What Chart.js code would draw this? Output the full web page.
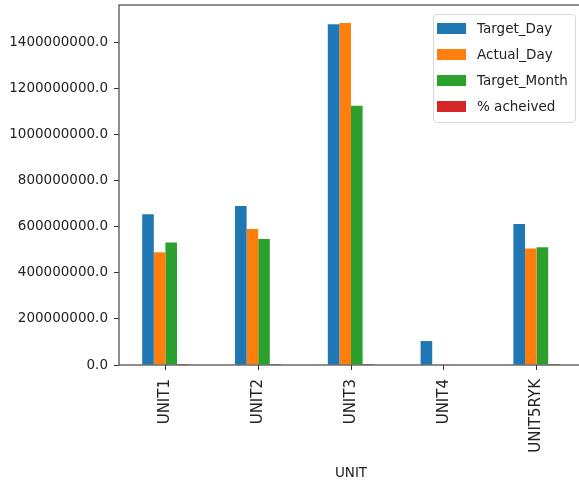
<!DOCTYPE html>
<html>
<head>
<meta charset="utf-8">
<script src="https://cdn.jsdelivr.net/npm/chart.js@4"></script>
<style>
  body { margin: 0; overflow: hidden; background: #fff; }
  #wrap { position: relative; width: 584px; height: 482px; }
  #legend {
    position: absolute; left: 433px; top: 14px; width: 141px; height: 107px;
    border: 1px solid #d9d9d9; border-radius: 4px; background: rgba(255,255,255,0.8);
    font-family: "DejaVu Sans"; font-size: 13.5px; color: #222;
  }
  .item { height: 26px; display: flex; align-items: center; padding-left: 3px; }
  .sw { width: 29px; height: 11px; margin-right: 11px; }
</style>
</head>
<body>
<div id="wrap">
  <canvas id="myChart"></canvas>
  <div id="legend"></div>
</div>
<script>
var units = ["UNIT1", "UNIT2", "UNIT3", "UNIT4", "UNIT5RYK"];
var targetDay = [655000000, 691000000, 1481000000, 104000000, 613000000];
var actualDay = [490000000, 591000000, 1487000000, 0, 506000000];
var targetMonth = [533000000, 548000000, 1127000000, 0, 512000000];
var pctAchieved = [75, 86, 100, 0, 83];
var yTicks = [0, 200000000, 400000000, 600000000, 800000000, 1000000000, 1200000000, 1400000000];
var yMax = 1565000000;

var colors = ["#1f77b4", "#ff7f0e", "#2ca02c", "#d62728"];
var names = ["Target_Day", "Actual_Day", "Target_Month", "% acheived"];
var series = [targetDay, actualDay, targetMonth, pctAchieved];

var mb_datasets = series.map(function (s, i) {
    return { label: names[i], data: s, backgroundColor: colors[i], barPercentage: 1.0, categoryPercentage: 0.5 };
});

// axes box like matplotlib spines
var spines = {
    id: 'spines',
    afterDraw: function (chart) {
        var a = chart.chartArea, ctx = chart.ctx;
        ctx.save();
        ctx.strokeStyle = '#444';
        ctx.lineWidth = 1.2;
        ctx.strokeRect(a.left, a.top, a.right - a.left, a.bottom - a.top);
        ctx.restore();
    }
};

var chart = new Chart("myChart", {
    type: 'bar',
    data: { labels: units, datasets: mb_datasets },
    options: {
        responsive: true,
        maintainAspectRatio: false,
        animation: false,
        layout: { padding: { top: 5, right: 1, left: 0, bottom: 0 } },
        plugins: { legend: { display: false }, tooltip: { enabled: false } },
        scales: {
            x: {
                grid: { display: true, offset: false, drawOnChartArea: false, tickLength: 5, tickColor: '#333' },
                border: { display: false },
                ticks: {
                    autoSkip: false, minRotation: 90, maxRotation: 90, padding: 9,
                    color: '#222', font: { family: 'DejaVu Sans', size: 15 }
                },
                title: {
                    display: true, text: 'UNIT', color: '#222', padding: { top: 2, bottom: 0 },
                    font: { family: 'DejaVu Sans', size: 13.5 }
                },
                afterFit: function (scale) {
                    scale.height = 117;
                    scale.paddingLeft = 0;
                    scale.paddingRight = 0;
                }
            },
            y: {
                min: 0,
                max: yMax,
                grid: { display: true, drawOnChartArea: false, tickLength: 5, tickColor: '#333' },
                border: { display: false },
                ticks: {
                    padding: 6, color: '#222', font: { family: 'DejaVu Sans', size: 13.5 },
                    callback: function (v) { return Number(v).toFixed(1); }
                },
                afterBuildTicks: function (scale) {
                    scale.ticks = yTicks.map(function (v) { return { value: v }; });
                },
                afterFit: function (scale) {
                    scale.width = 119;
                    scale.paddingTop = 0;
                    scale.paddingBottom = 0;
                }
            }
        }
    },
    plugins: [spines]
});

var legend = document.getElementById("legend");
chart.data.datasets.forEach(function (ds) {
    var row = document.createElement("div");
    row.className = "item";
    var sw = document.createElement("span");
    sw.className = "sw";
    sw.style.background = ds.backgroundColor;
    var txt = document.createElement("span");
    txt.textContent = ds.label;
    row.appendChild(sw);
    row.appendChild(txt);
    legend.appendChild(row);
});
</script>
</body>
</html>
